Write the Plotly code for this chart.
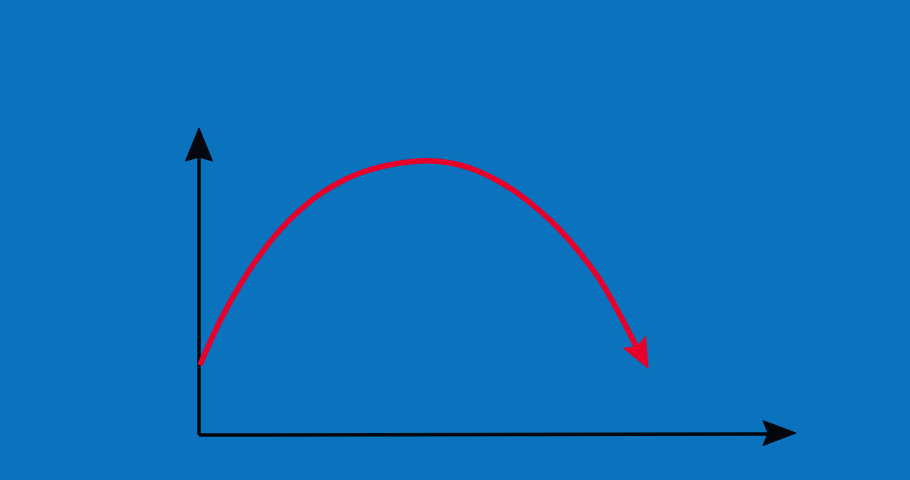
import numpy as np
import plotly.graph_objects as go

# curve (origin at the axis corner, 1 unit = 1 px)
curve_x = [1, 21, 41, 61, 81, 101, 121, 141, 161, 181, 201, 221,
           241, 261, 281, 301, 321, 341, 361, 381, 401, 421, 434, 438]
curve_y = [70, 114, 150, 180, 205, 225, 241, 253, 262, 268, 272, 274,
           273.5, 270, 263, 253, 240, 224, 205, 182, 155, 120, 95, 87]
curve_tip = [449, 67]

# axes
x_axis_x = [0, 571]
x_axis_y = [0, 1]
x_axis_tip = [597, 2]
y_axis_x = [0, 0]
y_axis_y = [0, 280]
y_axis_tip = [0, 307]

BG = "#0B72BD"
RED = "#E8002B"
BLACK = "#05070F"


def head(tip, prev, length, half, notch):
    tip = np.array(tip, float)
    d = tip - np.array(prev, float)
    d /= np.linalg.norm(d)
    p = np.array([-d[1], d[0]])
    base = tip - length * d
    pts = [tip, base + half * p, tip - (length - notch) * d, base - half * p, tip]
    return [q[0] for q in pts], [q[1] for q in pts]


fig = go.Figure()

fig.add_trace(go.Scatter(x=x_axis_x, y=x_axis_y, mode="lines",
                         line=dict(color=BLACK, width=3.5)))
fig.add_trace(go.Scatter(x=y_axis_x, y=y_axis_y, mode="lines",
                         line=dict(color=BLACK, width=3.5)))

hx, hy = head(x_axis_tip, [x_axis_x[0], x_axis_y[0]], 33, 12.5, 5)
fig.add_trace(go.Scatter(x=hx, y=hy, mode="lines", fill="toself",
                         fillcolor=BLACK, line=dict(color=BLACK, width=1)))
hx, hy = head(y_axis_tip, [y_axis_x[0], y_axis_y[0]], 33, 13.5, 4)
fig.add_trace(go.Scatter(x=hx, y=hy, mode="lines", fill="toself",
                         fillcolor=BLACK, line=dict(color=BLACK, width=1)))

fig.add_trace(go.Scatter(x=curve_x, y=curve_y, mode="lines",
                         line=dict(color=RED, width=5.5, shape="spline",
                                   smoothing=1)))
hx, hy = head(curve_tip, [curve_x[-3], curve_y[-3]], 29, 12.5, 5)
fig.add_trace(go.Scatter(x=hx, y=hy, mode="lines", fill="toself",
                         fillcolor=RED, line=dict(color=RED, width=1)))

fig.update_xaxes(range=[-199, 711], visible=False, fixedrange=True)
fig.update_yaxes(range=[-45, 435], visible=False, fixedrange=True)
fig.update_layout(
    width=910, height=480,
    margin=dict(l=0, r=0, t=0, b=0),
    paper_bgcolor=BG, plot_bgcolor=BG,
    showlegend=False,
)

fig.write_html("out.html", config={"displayModeBar": False},
               post_script="document.body.style.margin='0';")
